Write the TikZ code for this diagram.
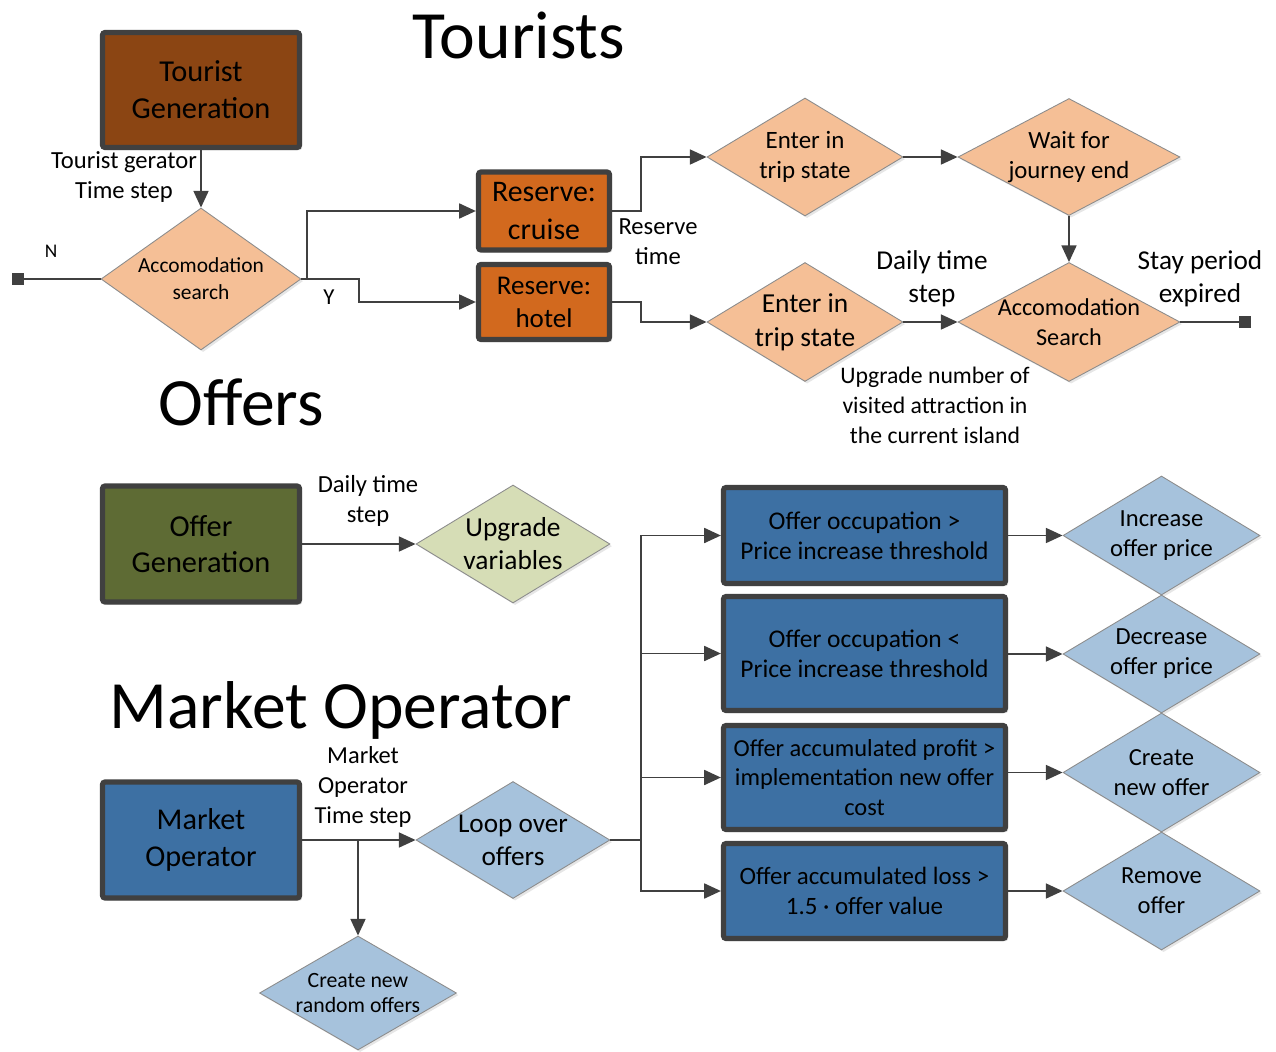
\documentclass[tikz,border=0pt]{standalone}
\usepackage{fontspec}
\setmainfont{Carlito}
\usetikzlibrary{shapes.geometric, arrows.meta, shadows}

\definecolor{linegray}{RGB}{64,64,64}
\definecolor{tourbrown}{RGB}{139,69,19}
\definecolor{resorange}{RGB}{210,105,30}
\definecolor{tourpeach}{RGB}{245,191,150}
\definecolor{offergreen}{RGB}{94,107,52}
\definecolor{offerlight}{RGB}{214,221,182}
\definecolor{mopblue}{RGB}{61,112,163}
\definecolor{moplight}{RGB}{166,194,220}

\newcommand{\fsize}[2]{\fontsize{#1}{#2}\selectfont}

\tikzset{
  procbox/.style={draw=linegray, line width=3pt, rounded corners=1.5pt, align=center, inner sep=0pt,
    drop shadow={shadow xshift=1.5pt, shadow yshift=-1.5pt, opacity=0.3}},
  decision/.style={diamond, draw=black!45, line width=0.5pt, inner sep=-15pt, align=center,
    drop shadow={shadow xshift=1.2pt, shadow yshift=-1.2pt, opacity=0.2}},
  endmark/.style={fill=linegray, minimum size=0.24cm, inner sep=0pt},
  lbl/.style={align=center, inner sep=0pt},
  title/.style={inner sep=0pt, font=\fsize{38.5}{46}},
  wire/.style={draw=linegray, line width=1.1pt},
  flow/.style={wire, -{Triangle[length=9.5pt, width=8.5pt]}}
}

\begin{document}
\begin{tikzpicture}[x=0.02cm, y=-0.02cm]
  \useasboundingbox (0,0) rectangle (1276,1052);

  % Tourists
  \node[title] (ttour) at (519,35) {Tourists};
  \node[procbox, fill=tourbrown, minimum width=3.94cm, minimum height=2.30cm, font=\fsize{17.3}{21}] (tgen) at (201,90) {Tourist\\Generation};
  \node[decision, fill=tourpeach, minimum width=4cm, minimum height=2.84cm, font=\fsize{12.2}{15.3}] (acc1) at (201,279) {Accomodation\\search};
  \node[endmark] (endN) at (18,279) {};

  \node[procbox, fill=resorange, minimum width=2.62cm, minimum height=1.56cm, font=\fsize{17}{21.5}] (cruise) at (544,211) {Reserve:\\cruise};
  \node[procbox, fill=resorange, minimum width=2.62cm, minimum height=1.50cm, font=\fsize{15.4}{18.7}] (hotel) at (544,302) {Reserve:\\hotel};

  \node[decision, fill=tourpeach, minimum width=3.92cm, minimum height=2.36cm, font=\fsize{14.2}{17}] (ent1) at (805,157) {Enter in\\trip state};
  \node[decision, fill=tourpeach, minimum width=4.44cm, minimum height=2.34cm, font=\fsize{14.1}{17}] (wait) at (1069,157) {Wait for\\journey end};
  \node[decision, fill=tourpeach, minimum width=3.92cm, minimum height=2.38cm, font=\fsize{15.6}{19.3}] (ent2) at (805,322) {Enter in\\trip state};
  \node[decision, fill=tourpeach, minimum width=4.44cm, minimum height=2.38cm, font=\fsize{13.8}{17}] (acc2) at (1069,322) {Accomodation\\Search};
  \node[endmark] (endS) at (1245,322) {};

  \node[lbl, font=\fsize{14}{17}] (ltgen) at (124,177) {Tourist gerator\\Time step};
  \node[lbl, font=\fsize{11}{13}] (lN) at (51,251) {N};
  \node[lbl, font=\fsize{13}{15}] (lY) at (329,297) {Y};
  \node[lbl, font=\fsize{14}{17}] (lres) at (658,242) {Reserve\\time};
  \node[lbl, font=\fsize{15.5}{19}] (ldaily1) at (932,279) {Daily time\\step};
  \node[lbl, font=\fsize{15.5}{19}] (lstay) at (1200,279) {Stay period\\expired};
  \node[lbl, font=\fsize{13.5}{17}] (lupg) at (935,405) {Upgrade number of\\visited attraction in\\the current island};

  \draw[flow] (tgen.south) -- (acc1.north);
  \draw[wire] (acc1.west) -- (endN);
  \draw[flow] (acc1.east) -- ++(6,0) |- (cruise.west);
  \draw[flow] (acc1.east) -- ++(58,0) |- (hotel.west);
  \draw[flow] (cruise.east) -- ++(29,0) |- (ent1.west);
  \draw[flow] (hotel.east) -- ++(29,0) |- (ent2.west);
  \draw[flow] (ent1.east) -- (wait.west);
  \draw[flow] (wait.south) -- (acc2.north);
  \draw[flow] (ent2.east) -- (acc2.west);
  \draw[wire] (acc2.east) -- (endS);

  % Offers
  \node[title] (toff) at (241,402) {Offers};
  \node[procbox, fill=offergreen, minimum width=3.94cm, minimum height=2.32cm, font=\fsize{17.3}{20.5}] (ogen) at (201,544) {Offer\\Generation};
  \node[decision, fill=offerlight, minimum width=3.88cm, minimum height=2.36cm, font=\fsize{15.6}{18.7}] (upg) at (513,544) {Upgrade\\variables};
  \node[lbl, font=\fsize{14}{17.5}] (ldaily2) at (368,501) {Daily time\\step};

  \draw[flow] (ogen.east) -- (upg.west);

  % Market Operator
  \node[title] (tmop) at (341,710) {Market Operator};
  \node[procbox, fill=mopblue, minimum width=3.94cm, minimum height=2.32cm, font=\fsize{17.2}{21}] (mop) at (201,840) {Market\\Operator};
  \node[decision, fill=moplight, minimum width=3.88cm, minimum height=2.34cm, font=\fsize{15.5}{18.7}] (loop) at (513,840) {Loop over\\offers};
  \node[decision, fill=moplight, minimum width=3.94cm, minimum height=2.28cm, font=\fsize{12.4}{14.7}] (rnd) at (358,993) {Create new\\random offers};
  \node[lbl, font=\fsize{13.9}{17}] (lmop) at (363,787) {Market\\Operator\\Time step};

  \node[procbox, fill=mopblue, minimum width=5.64cm, minimum height=1.92cm, font=\fsize{14.5}{17}] (c1) at (864.5,535.5) {Offer occupation >\\Price increase threshold};
  \node[procbox, fill=mopblue, minimum width=5.64cm, minimum height=2.28cm, font=\fsize{14.5}{17}] (c2) at (864.5,653.5) {Offer occupation <\\Price increase threshold};
  \node[procbox, fill=mopblue, minimum width=5.64cm, minimum height=2.08cm, font=\fsize{13.9}{17}] (c3) at (864.5,777.5) {Offer accumulated profit >\\implementation new offer\\cost};
  \node[procbox, fill=mopblue, minimum width=5.64cm, minimum height=1.90cm, font=\fsize{14.2}{17}] (c4) at (864.5,891) {Offer accumulated loss >\\1.5 · offer value};

  \node[decision, fill=moplight, minimum width=3.94cm, minimum height=2.38cm, font=\fsize{14}{17}] (inc) at (1161.5,535.5) {Increase\\offer price};
  \node[decision, fill=moplight, minimum width=3.94cm, minimum height=2.36cm, font=\fsize{14}{17}] (dec) at (1161.5,654) {Decrease\\offer price};
  \node[decision, fill=moplight, minimum width=3.94cm, minimum height=2.38cm, font=\fsize{14}{17}] (cre) at (1161.5,772.5) {Create\\new offer};
  \node[decision, fill=moplight, minimum width=3.94cm, minimum height=2.36cm, font=\fsize{14}{17}] (rem) at (1161.5,891) {Remove\\offer};

  \draw[flow] (mop.east) -- (loop.west);
  \draw[flow] (rnd.north |- mop.east) -- (rnd.north);
  \coordinate (bus) at (641,840);
  \draw[wire] (loop.east) -- (bus);
  \foreach \c in {c1,c2,c3,c4}
    \draw[flow] (bus) |- (\c.west);
  \foreach \c/\d in {c1/inc,c2/dec,c3/cre,c4/rem}
    \draw[flow] (\c.east |- \d.west) -- (\d.west);
\end{tikzpicture}
\end{document}
